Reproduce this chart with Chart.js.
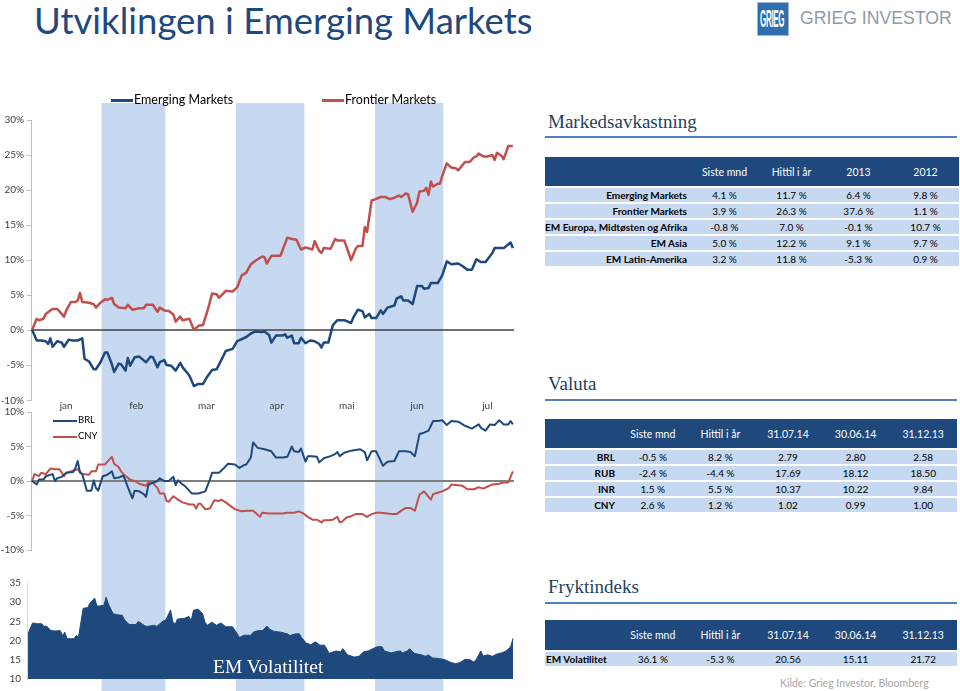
<!DOCTYPE html>
<html><head><meta charset="utf-8">
<script src="https://cdn.jsdelivr.net/npm/chart.js@4.4.1/dist/chart.umd.min.js"></script>
<style>
body{margin:0;width:960px;height:691px;overflow:hidden;background:#fff;font-family:Lato,'Open Sans',sans-serif;position:relative}
.abs{position:absolute}
canvas{position:absolute;left:0}
#title{left:34px;top:0px;font-size:36.5px;color:#1F497D;white-space:nowrap;line-height:40px}
.h2{font-family:'Liberation Serif',serif;font-size:19px;color:#243F60;line-height:22px;white-space:nowrap}
.rule{height:2px;background:#4F81BD;width:412px;left:545px}
table.t{position:absolute;border-collapse:collapse;table-layout:fixed;font-size:10px;color:#000}
table.t th{background:#1F497D;color:#fff;font-weight:normal;padding:0;text-align:center;font-size:10.5px}
table.t td{background:#C6D9F1;height:14px;padding:0;text-align:center;border-top:2px solid #fff;line-height:14px;white-space:nowrap}
table.t td.lbl{font-weight:bold;text-align:right;padding-right:4px}
table.t td.lbll{font-weight:bold;text-align:left;padding-left:1px;overflow:visible}
.leg{font-size:12.5px;color:#000;white-space:nowrap}
.sw{height:3px}
#yMinLabel{left:0;top:394px;width:24px;text-align:right;font-size:10px;line-height:12px;color:#404040;z-index:10;white-space:nowrap}
</style></head>
<body>
<div id="title" class="abs">Utviklingen i Emerging Markets</div>
<div class="abs" style="left:757px;top:2px;width:32px;height:34px;background:#2F6EAC;border:1px solid #9db7d4;box-sizing:border-box;overflow:hidden">
  <div style="color:#fff;font-family:'Liberation Sans',sans-serif;font-weight:bold;font-size:8px;letter-spacing:-0.3px;transform:scale(1,3);transform-origin:top left;position:absolute;left:2px;top:3px;white-space:nowrap">GRIEG</div>
</div>
<div class="abs" style="left:800px;top:7px;font-family:'Liberation Sans',sans-serif;font-size:19px;color:#8d9ba8;white-space:nowrap;transform:scaleX(0.93);transform-origin:left top">GRIEG INVESTOR</div>

<canvas id="c1" width="540" height="318" style="top:95px"></canvas>
<canvas id="c2" width="540" height="164" style="top:396px"></canvas>
<canvas id="c3" width="540" height="131" style="top:560px"></canvas>
<div id="yMinLabel" class="abs">-10%</div>

<div class="abs sw" style="left:111px;top:99px;width:22px;background:#1F497D"></div>
<div class="abs leg" style="left:134px;top:92px">Emerging Markets</div>
<div class="abs sw" style="left:322px;top:99px;width:22px;background:#C0504D"></div>
<div class="abs leg" style="left:345px;top:92px">Frontier Markets</div>

<div class="abs" style="left:53px;top:420px;width:24px;height:2px;background:#1F497D"></div>
<div class="abs" style="left:78px;top:414px;font-size:9.5px;color:#000">BRL</div>
<div class="abs" style="left:53px;top:436px;width:24px;height:2px;background:#C0504D"></div>
<div class="abs" style="left:78px;top:430px;font-size:9.5px;color:#000">CNY</div>

<div class="abs" style="left:213px;top:656px;font-family:'Liberation Serif',serif;font-size:19.5px;color:#fff;white-space:nowrap">EM Volatilitet</div>

<div class="abs h2" style="left:548px;top:111px">Markedsavkastning</div>
<div class="abs rule" style="top:136px"></div>
<table class="t" id="t1" style="left:545px;top:157px;width:414px"></table>

<div class="abs h2" style="left:548px;top:373px">Valuta</div>
<div class="abs rule" style="top:399px"></div>
<table class="t" id="t2" style="left:545px;top:419px;width:412px"></table>

<div class="abs h2" style="left:548px;top:576px">Fryktindeks</div>
<div class="abs rule" style="top:602px"></div>
<table class="t" id="t3" style="left:545px;top:620px;width:412px"></table>

<div class="abs" style="left:780px;top:677px;font-size:10.5px;color:#a6a6a6;white-space:nowrap">Kilde: Grieg Investor, Bloomberg</div>

<script>
// ---------- DATA (x = day of year 2014, 0 = 31.12.13) ----------
const monthLabels = ['jan','feb','mar','apr','mai','jun','jul'];
const shadedMonths = [[31,59],[90,120],[151,181]]; // feb, apr, jun (day ranges)
const marketTicks = [-10, -5, 0, 5, 10, 15, 20, 25, 30];
const fxTicks = [-10, -5, 0, 5, 10];
const volTicks = [10, 15, 20, 25, 30, 35];

const emergingMarkets = [[0,0],[2,-1.5],[4,-1.5],[6,-1.6],[7,-2.0],[8,-1.2],[9,-2.4],[11,-1.6],[13,-1.8],[14,-2.4],[16,-1.4],[18,-1.5],[20,-1.5],[22,-1.2],[23,-4.1],[25,-4.5],[27,-5.6],[28,-5.6],[30,-4.6],[32,-3.2],[33,-3.2],[35,-4.9],[36,-6.0],[38,-4.8],[39,-4.9],[41,-5.8],[42,-4.0],[43,-5.1],[45,-3.9],[47,-3.8],[50,-4.6],[52,-3.8],[53,-3.9],[55,-5.3],[56,-4.6],[58,-4.3],[59,-5.0],[61,-5.1],[63,-5.8],[65,-4.7],[66,-5.3],[69,-6.5],[71,-8.0],[73,-7.7],[75,-7.7],[77,-6.6],[79,-5.7],[81,-5.6],[83,-4.3],[85,-3.0],[88,-2.7],[90,-1.6],[92,-1.3],[94,-1.0],[96,-0.5],[98,-0.2],[101,-0.3],[102,-0.2],[104,-0.7],[105,-1.8],[107,-0.8],[110,-0.8],[111,-0.6],[112,-1.1],[114,-0.8],[115,-1.9],[117,-1.9],[118,-1.1],[120,-1.9],[122,-1.5],[124,-1.6],[126,-2.0],[127,-2.5],[128,-1.8],[130,-1.8],[132,0.7],[134,1.4],[137,1.4],[140,1.0],[141,1.8],[143,2.9],[145,2.7],[146,1.8],[148,2.3],[149,1.7],[151,1.7],[153,2.8],[154,2.3],[156,3.2],[159,3.5],[160,4.5],[162,4.8],[163,4.2],[165,4.2],[167,3.7],[169,6.3],[171,6.3],[172,5.9],[174,6.0],[175,6.7],[178,6.7],[180,7.8],[182,9.8],[184,9.4],[187,9.5],[189,9.1],[191,8.6],[193,8.6],[195,10.1],[197,9.7],[199,9.7],[202,11.0],[203,11.7],[205,11.7],[207,11.7],[210,12.5],[211,11.7]];

const frontierMarkets = [[0,0],[2,1.6],[3,1.4],[5,1.6],[6,2.3],[8,2.8],[9,3.0],[11,3.0],[13,2.3],[14,1.9],[15,2.8],[17,4.0],[19,4.0],[20,4.2],[21,5.3],[22,4.0],[25,3.9],[27,3.7],[28,3.2],[30,3.9],[32,4.4],[33,4.3],[35,4.6],[36,3.7],[38,3.2],[41,3.1],[42,3.6],[44,2.9],[47,3.1],[49,3.1],[50,3.6],[53,3.6],[55,2.6],[56,3.2],[58,2.8],[60,2.7],[62,2.2],[63,1.2],[65,1.9],[66,1.4],[69,1.6],[70,0.8],[71,0.0],[73,0.6],[75,0.7],[77,2.8],[79,5.2],[81,5.1],[82,4.6],[85,5.6],[88,5.5],[90,6.1],[92,7.8],[94,8.2],[96,9.4],[98,9.9],[101,10.5],[102,10.4],[103,9.5],[105,10.6],[107,10.6],[109,10.6],[112,13.2],[114,13.0],[116,12.9],[118,11.5],[120,11.8],[123,11.5],[124,12.7],[126,11.3],[127,11.0],[128,11.7],[131,11.6],[133,13.0],[134,12.8],[137,12.8],[140,10.0],[142,11.6],[143,12.0],[145,12.0],[146,14.7],[147,14.0],[149,18.5],[150,18.6],[153,19.0],[155,19.0],[157,18.7],[159,18.9],[161,19.2],[162,19.0],[164,19.5],[165,19.4],[167,16.9],[169,18.2],[170,19.8],[172,19.9],[173,20.3],[174,19.3],[175,21.2],[176,20.5],[178,20.9],[179,20.9],[180,22.0],[182,23.8],[184,23.2],[186,23.1],[187,22.8],[190,24.0],[192,24.0],[194,24.7],[195,24.8],[196,25.2],[198,24.8],[200,24.8],[202,25.0],[203,24.3],[204,25.3],[206,24.9],[207,24.4],[209,26.3],[211,26.3]];

const brl = [[0,0],[2,-0.5],[3,0.2],[5,0.2],[6,0.7],[9,1.0],[10,0.0],[11,0.4],[13,0.6],[15,1.2],[18,1.3],[19,1.9],[20,2.9],[21,1.2],[22,1.0],[24,-1.4],[26,-1.4],[27,0.1],[28,-1.0],[29,-1.4],[31,0.7],[33,0.9],[35,1.4],[36,0.4],[38,0.5],[40,0.8],[41,0.0],[42,-0.9],[44,-2.5],[45,-1.4],[47,-1.5],[49,-1.9],[50,-2.3],[51,-0.6],[52,-0.4],[55,0.0],[56,0.4],[58,0.0],[60,0.0],[62,0.6],[63,-0.6],[64,0.1],[66,-0.5],[67,-0.7],[70,-1.8],[73,-1.8],[76,-1.5],[78,0.2],[79,1.2],[82,1.2],[84,1.8],[86,2.5],[89,2.4],[91,1.9],[93,2.3],[94,2.4],[96,3.4],[97,5.6],[99,4.8],[102,4.6],[105,4.3],[107,3.4],[110,3.4],[112,3.5],[114,5.0],[115,4.3],[117,4.2],[118,4.7],[120,2.8],[121,3.6],[123,3.6],[125,3.5],[126,2.7],[128,3.3],[131,3.6],[133,3.9],[134,4.2],[135,3.6],[137,4.1],[140,4.4],[142,4.5],[144,4.6],[146,4.2],[147,3.0],[149,4.3],[151,4.3],[153,2.9],[154,2.2],[156,2.8],[159,2.9],[161,4.3],[164,4.3],[166,4.2],[168,3.6],[170,6.8],[172,7.0],[174,7.3],[176,8.7],[178,8.7],[180,8.8],[182,8.1],[184,8.7],[187,8.6],[190,8.0],[193,7.6],[196,8.2],[197,7.7],[199,7.3],[201,8.2],[203,8.1],[205,8.8],[207,8.2],[209,8.2],[210,8.7],[211,8.2]];

const cny = [[0,0],[1,1.0],[3,0.7],[4,1.2],[6,1.0],[7,1.4],[8,1.8],[10,1.7],[12,1.7],[14,0.7],[15,1.2],[17,1.4],[20,1.7],[22,1.0],[25,0.9],[26,1.4],[28,1.4],[29,2.4],[32,2.4],[33,2.8],[35,3.5],[36,2.5],[38,2.0],[39,1.4],[41,0.7],[43,0.2],[45,0.0],[47,-0.4],[50,-0.7],[51,-0.2],[53,-0.3],[55,-1.0],[56,-1.8],[58,-1.8],[59,-2.9],[60,-3.0],[62,-2.2],[64,-2.7],[66,-3.1],[69,-3.4],[71,-3.4],[72,-4.0],[73,-3.3],[74,-3.3],[76,-4.1],[78,-4.0],[80,-2.8],[82,-2.9],[83,-2.7],[85,-3.1],[87,-3.6],[89,-4.1],[92,-4.4],[94,-4.3],[97,-4.3],[98,-4.6],[100,-5.2],[101,-4.6],[104,-4.7],[107,-4.7],[110,-4.7],[112,-4.6],[115,-4.6],[117,-4.4],[119,-4.7],[121,-5.2],[123,-5.6],[125,-5.6],[127,-6.0],[128,-5.7],[130,-5.7],[132,-5.6],[134,-5.2],[135,-6.0],[136,-5.9],[138,-5.3],[140,-5.1],[142,-4.8],[145,-4.8],[147,-5.2],[149,-4.8],[151,-4.6],[153,-4.6],[156,-4.7],[158,-4.8],[160,-4.8],[162,-4.3],[164,-3.9],[166,-3.9],[168,-4.3],[170,-2.0],[172,-1.5],[175,-2.7],[176,-1.9],[178,-1.7],[180,-1.5],[183,-1.0],[184,-0.5],[187,-0.6],[189,-0.7],[191,-1.2],[194,-1.2],[196,-0.9],[198,-1.1],[200,-0.8],[202,-0.5],[205,-0.4],[207,-0.2],[209,-0.2],[210,0.6],[211,1.4]];

const emVolatility = [[0,21.8],[2,24.6],[4,24.4],[6,24.4],[7,23.7],[8,23.8],[10,22.6],[12,22.5],[14,22.6],[15,21.3],[16,22.2],[17,20.5],[19,20.5],[20,20.5],[21,21.3],[22,21.0],[24,28.4],[26,28.6],[27,29.8],[29,31.1],[30,29.0],[31,29.0],[33,29.2],[34,31.3],[35,29.5],[37,27.0],[39,26.7],[41,26.6],[42,25.4],[44,24.2],[47,24.2],[48,25.0],[51,23.8],[52,23.7],[55,24.0],[56,23.7],[57,24.2],[59,25.2],[60,25.4],[62,28.0],[63,25.0],[64,24.2],[65,25.6],[68,25.8],[70,26.3],[71,25.2],[72,27.9],[74,28.2],[76,27.0],[77,24.8],[78,24.0],[80,24.8],[82,24.0],[84,24.6],[86,23.6],[89,23.6],[91,21.8],[92,20.8],[94,21.4],[97,21.4],[98,22.2],[100,22.6],[102,22.6],[104,23.8],[105,23.0],[107,22.4],[110,22.2],[113,21.7],[114,21.3],[116,21.7],[118,21.8],[119,20.8],[121,19.4],[123,18.9],[125,19.7],[127,18.8],[129,18.8],[131,16.7],[134,17.3],[136,17.1],[137,17.9],[139,16.3],[142,15.7],[144,15.9],[146,17.1],[148,17.3],[150,17.9],[152,18.4],[154,18.4],[155,17.3],[158,16.8],[160,17.1],[162,17.3],[163,16.8],[165,17.3],[166,17.9],[168,16.7],[171,16.3],[173,15.9],[174,16.3],[176,15.5],[179,15.3],[181,15.1],[184,14.3],[186,14.0],[188,14.3],[190,15.1],[192,15.1],[194,14.4],[195,15.1],[197,17.3],[198,16.0],[200,16.3],[202,15.9],[204,16.5],[206,16.8],[208,17.3],[210,18.4],[211,20.6]];

const returnHeaders = ['', 'Siste mnd', 'Hittil i år', '2013', '2012'];
const returnRows = [
  ['Emerging Markets', '4.1 %', '11.7 %', '6.4 %', '9.8 %'],
  ['Frontier Markets', '3.9 %', '26.3 %', '37.6 %', '1.1 %'],
  ['EM Europa, Midtøsten og Afrika', '-0.8 %', '7.0 %', '-0.1 %', '10.7 %'],
  ['EM Asia', '5.0 %', '12.2 %', '9.1 %', '9.7 %'],
  ['EM Latin-Amerika', '3.2 %', '11.8 %', '-5.3 %', '0.9 %']
];
const fxHeaders = ['', 'Siste mnd', 'Hittil i år', '31.07.14', '30.06.14', '31.12.13'];
const fxRows = [
  ['BRL', '-0.5 %', '8.2 %', '2.79', '2.80', '2.58'],
  ['RUB', '-2.4 %', '-4.4 %', '17.69', '18.12', '18.50'],
  ['INR', '1.5 %', '5.5 %', '10.37', '10.22', '9.84'],
  ['CNY', '2.6 %', '1.2 %', '1.02', '0.99', '1.00']
];
const fearHeaders = ['', 'Siste mnd', 'Hittil i år', '31.07.14', '30.06.14', '31.12.13'];
const fearRows = [
  ['EM Volatilitet', '36.1 %', '-5.3 %', '20.56', '15.11', '21.72']
];

// ---------- TABLES ----------
function buildTable(id, headers, rows, widths, hh, lblClass) {
  const t = document.getElementById(id);
  let html = '<colgroup>' + widths.map(w => `<col style="width:${w}px">`).join('') + '</colgroup>';
  html += '<tr>' + headers.map(h => `<th style="height:${hh}px">${h}</th>`).join('') + '</tr>';
  rows.forEach(r => {
    html += '<tr>' + r.map((c, i) => `<td${i === 0 ? ` class="${lblClass}"` : ''}>${c}</td>`).join('') + '</tr>';
  });
  t.innerHTML = html;
}
buildTable('t1', returnHeaders, returnRows, [146, 67, 67, 67, 67], 29, 'lbl');
buildTable('t2', fxHeaders, fxRows, [74, 67.6, 67.6, 67.6, 67.6, 67.6], 29, 'lbl');
buildTable('t3', fearHeaders, fearRows, [74, 67.6, 67.6, 67.6, 67.6, 67.6], 30, 'lbll');

// ---------- CHARTS ----------
Chart.defaults.font.family = 'Lato';
Chart.defaults.font.size = 10;
const NAVY = '#1F497D', RED = '#C0504D', BAND = '#C6D9F1', AXIS = '#bfbfbf', TXT = '#404040';
const toXY = arr => arr.map(([x, y]) => ({x, y}));

const bandPlugin = {
  id: 'bands',
  beforeDraw(chart, args, opts) {
    const xs = chart.scales[opts.axis || 'x'];
    const ctx = chart.ctx;
    ctx.save();
    ctx.fillStyle = BAND;
    shadedMonths.forEach(([a, b]) => {
      const x1 = xs.getPixelForValue(a - 0.5), x2 = xs.getPixelForValue(b - 0.5);
      ctx.fillRect(x1, opts.top, x2 - x1, chart.height - opts.top);
    });
    ctx.restore();
  }
};
const zeroPlugin = {
  id: 'zeroLine',
  beforeDatasetsDraw(chart, args, opts) {
    const y = chart.scales.y.getPixelForValue(0);
    const {left, right} = chart.chartArea;
    const ctx = chart.ctx;
    ctx.save();
    ctx.strokeStyle = opts.color; ctx.lineWidth = opts.width;
    ctx.beginPath(); ctx.moveTo(left, y); ctx.lineTo(right, y); ctx.stroke();
    ctx.restore();
  }
};
const monthPlugin = {
  id: 'months',
  afterDraw(chart) {
    const xs = chart.scales.xm;
    const ctx = chart.ctx;
    ctx.save();
    ctx.font = '10px Lato';
    ctx.fillStyle = TXT;
    ctx.textAlign = 'center';
    ctx.textBaseline = 'middle';
    monthLabels.forEach((m, i) => ctx.fillText(m, xs.getPixelForValue(i), chart.chartArea.top - 6));
    ctx.restore();
  }
};

function yAxis(tickValues, suffix, width, hideMin) {
  return {
    min: tickValues[0], max: tickValues[tickValues.length - 1],
    afterBuildTicks: s => { s.ticks = tickValues.map(v => ({value: v})); },
    ticks: {callback: v => (hideMin && v === tickValues[0]) ? '' : v + suffix, padding: 3, color: TXT, font: {size: 10}, autoSkip: false},
    afterFit: s => { s.width = width; },
    grid: {color: 'rgba(0,0,0,0)', tickColor: AXIS, tickLength: 4},
    border: {display: true, color: AXIS}
  };
}
const lineEls = {point: {radius: 0}, line: {tension: 0, borderJoinStyle: 'round'}};

// Chart 1: Emerging vs Frontier markets
const chart1 = new Chart(document.getElementById('c1'), {
  type: 'line',
  data: {datasets: [
    {label: 'Emerging Markets', data: toXY(emergingMarkets), borderColor: NAVY, borderWidth: 2.5},
    {label: 'Frontier Markets', data: toXY(frontierMarkets), borderColor: RED, borderWidth: 2.5}
  ]},
  options: {responsive: false, animation: false, elements: lineEls,
    layout: {padding: {top: 25, bottom: 13, right: 26}},
    plugins: {legend: {display: false}, tooltip: {enabled: false}, bands: {top: 8}, zeroLine: {color: '#404040', width: 1.3}},
    scales: {
      x: {type: 'linear', min: -0.5, max: 211.5, display: false},
      y: yAxis(marketTicks, '%', 31, true)
    }
  },
  plugins: [bandPlugin, zeroPlugin]
});
// lowest tick label of chart 1, positioned from the chart's own y scale
(function () {
  const lab = document.getElementById('yMinLabel');
  const c1 = document.getElementById('c1');
  const v = marketTicks[0];
  lab.textContent = v + '%';
  const py = chart1.scales.y.getPixelForValue(v);
  if (isFinite(py)) lab.style.top = (c1.offsetTop + py - 6) + 'px';
})();

// Chart 2: BRL and CNY
new Chart(document.getElementById('c2'), {
  type: 'line',
  data: {datasets: [
    {label: 'BRL', data: toXY(brl), borderColor: NAVY, borderWidth: 2},
    {label: 'CNY', data: toXY(cny), borderColor: RED, borderWidth: 2}
  ]},
  options: {responsive: false, animation: false, elements: lineEls,
    layout: {padding: {top: 16, bottom: 10, right: 26}},
    plugins: {legend: {display: false}, tooltip: {enabled: false}, bands: {top: 17}, zeroLine: {color: '#808080', width: 2}},
    scales: {
      x: {type: 'linear', min: -0.5, max: 211.5, display: false},
      xm: {type: 'linear', min: -0.5, max: 6.38, display: false},
      y: yAxis(fxTicks, '%', 31, false)
    }
  },
  plugins: [bandPlugin, zeroPlugin, monthPlugin]
});

// Chart 3: EM volatility
new Chart(document.getElementById('c3'), {
  type: 'line',
  data: {datasets: [
    {label: 'EM Volatilitet', data: toXY(emVolatility), borderColor: NAVY, backgroundColor: NAVY, borderWidth: 1, fill: 'start'}
  ]},
  options: {responsive: false, animation: false, elements: lineEls,
    layout: {padding: {top: 23, bottom: 3, right: 26}},
    plugins: {legend: {display: false}, tooltip: {enabled: false}, bands: {top: 0, axis: 'xb'}},
    scales: {
      x: {type: 'linear', min: -0.435, max: 211.435, display: false},
      xb: {type: 'linear', min: -2.256, max: 211.5, display: false},
      y: {min: 10, max: 35,
        afterBuildTicks: s => { s.ticks = volTicks.map(v => ({value: v})); },
        ticks: {padding: 6, color: TXT, font: {size: 10}},
        afterFit: s => { s.width = 27; },
        grid: {display: false, drawTicks: false},
        border: {display: true, color: '#d9d9d9'}}
    }
  },
  plugins: [bandPlugin]
});
</script>
</body></html>
